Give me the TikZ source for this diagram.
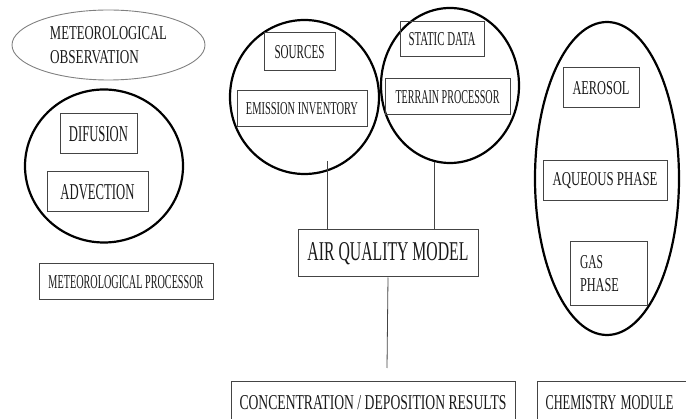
\documentclass[tikz,border=0pt]{standalone}
\usepackage{fontspec}
\setmainfont{Liberation Serif}
\usepackage{graphicx}
\usetikzlibrary{shapes.geometric}
\definecolor{txt}{HTML}{1A1A1A}
\definecolor{boxline}{HTML}{444444}
\newcommand\fitt[3]{\resizebox{#1pt}{#2pt}{#3}}
\tikzset{
  rbox/.style={draw=boxline, line width=1pt, rectangle, inner sep=0pt, text=txt},
  ring/.style={draw=black, line width=2.2pt, ellipse, inner sep=0pt},
  thinring/.style={draw=gray, line width=0.9pt, ellipse, inner sep=0pt, text=txt},
  conn/.style={draw=boxline, line width=0.8pt}
}
\begin{document}
\begin{tikzpicture}[x=1pt,y=-1pt]
\useasboundingbox (0,0) rectangle (686,419);
% meteorological observation
\node[thinring, minimum width=193pt, minimum height=70pt, align=left, font=\fontsize{10}{24}\selectfont] (obs) at (108.5,45)
  {\fitt{117}{13}{METEOROLOGICAL}\\\fitt{89}{13}{OBSERVATION}};
% circle 1
\node[ring, minimum width=158pt, minimum height=153pt] (c1) at (104,166) {};
\node[rbox, minimum width=77pt, minimum height=40pt] (dif) at (98.5,134) {\fitt{59}{15}{DIFUSION}};
\node[rbox, minimum width=101pt, minimum height=40pt] (adv) at (97.5,192) {\fitt{74}{15}{ADVECTION}};
\node[rbox, minimum width=174pt, minimum height=36pt] (metp) at (126,282) {\fitt{155}{13}{METEOROLOGICAL PROCESSOR}};
% circle 2
\node[ring, minimum width=149pt, minimum height=154pt] (c2) at (304.5,97) {};
\node[rbox, minimum width=71pt, minimum height=38pt] (src) at (299.5,52) {\fitt{50}{13}{SOURCES}};
\node[rbox, minimum width=130pt, minimum height=36pt] (emi) at (302,109) {\fitt{112}{12}{EMISSION INVENTORY}};
% circle 3
\node[ring, minimum width=138pt, minimum height=155pt] (c3) at (450,85.5) {};
\node[rbox, minimum width=84pt, minimum height=35pt] (stat) at (442,39.5) {\fitt{67}{13}{STATIC DATA}};
\node[rbox, minimum width=125pt, minimum height=36pt] (ter) at (447.5,97) {\fitt{104}{13}{TERRAIN PROCESSOR}};
% chemistry ellipse
\node[ring, minimum width=144pt, minimum height=313pt] (chem) at (607,178.5) {};
\node[rbox, minimum width=76pt, minimum height=40pt] (aer) at (601,88) {\fitt{57}{13}{AEROSOL}};
\node[rbox, minimum width=124pt, minimum height=40pt] (aq) at (605,181) {\fitt{105}{13}{AQUEOUS PHASE}};
\node[rbox, minimum height=64pt, text width=57pt, inner xsep=10pt, align=left, font=\fontsize{10}{23}\selectfont] (gas) at (608.5,274) {\fitt{23}{13}{GAS}\\\fitt{39}{13}{PHASE}};
% air quality model
\node[rbox, minimum width=180pt, minimum height=47pt] (aqm) at (388,253.5) {\fitt{161}{18}{AIR QUALITY MODEL}};
% results
\node[rbox, anchor=north, minimum width=284pt, inner ysep=14pt] (conc) at (373,381) {\fitt{267}{14}{CONCENTRATION / DEPOSITION RESULTS}};
\node[rbox, anchor=north west, text width=150pt, inner xsep=8pt, inner ysep=14pt, align=left] (chm) at (537,381) {\fitt{128}{14}{CHEMISTRY MODULE}};
% connectors
\coordinate (s1) at (327,161);
\coordinate (s2) at (434,162);
\coordinate (e3) at (387,368);
\draw[conn] (s1) -- (s1 |- aqm.north);
\draw[conn] (s2) -- (s2 |- aqm.north);
\draw[conn] (aqm.south) -- (e3);
\end{tikzpicture}
\end{document}
